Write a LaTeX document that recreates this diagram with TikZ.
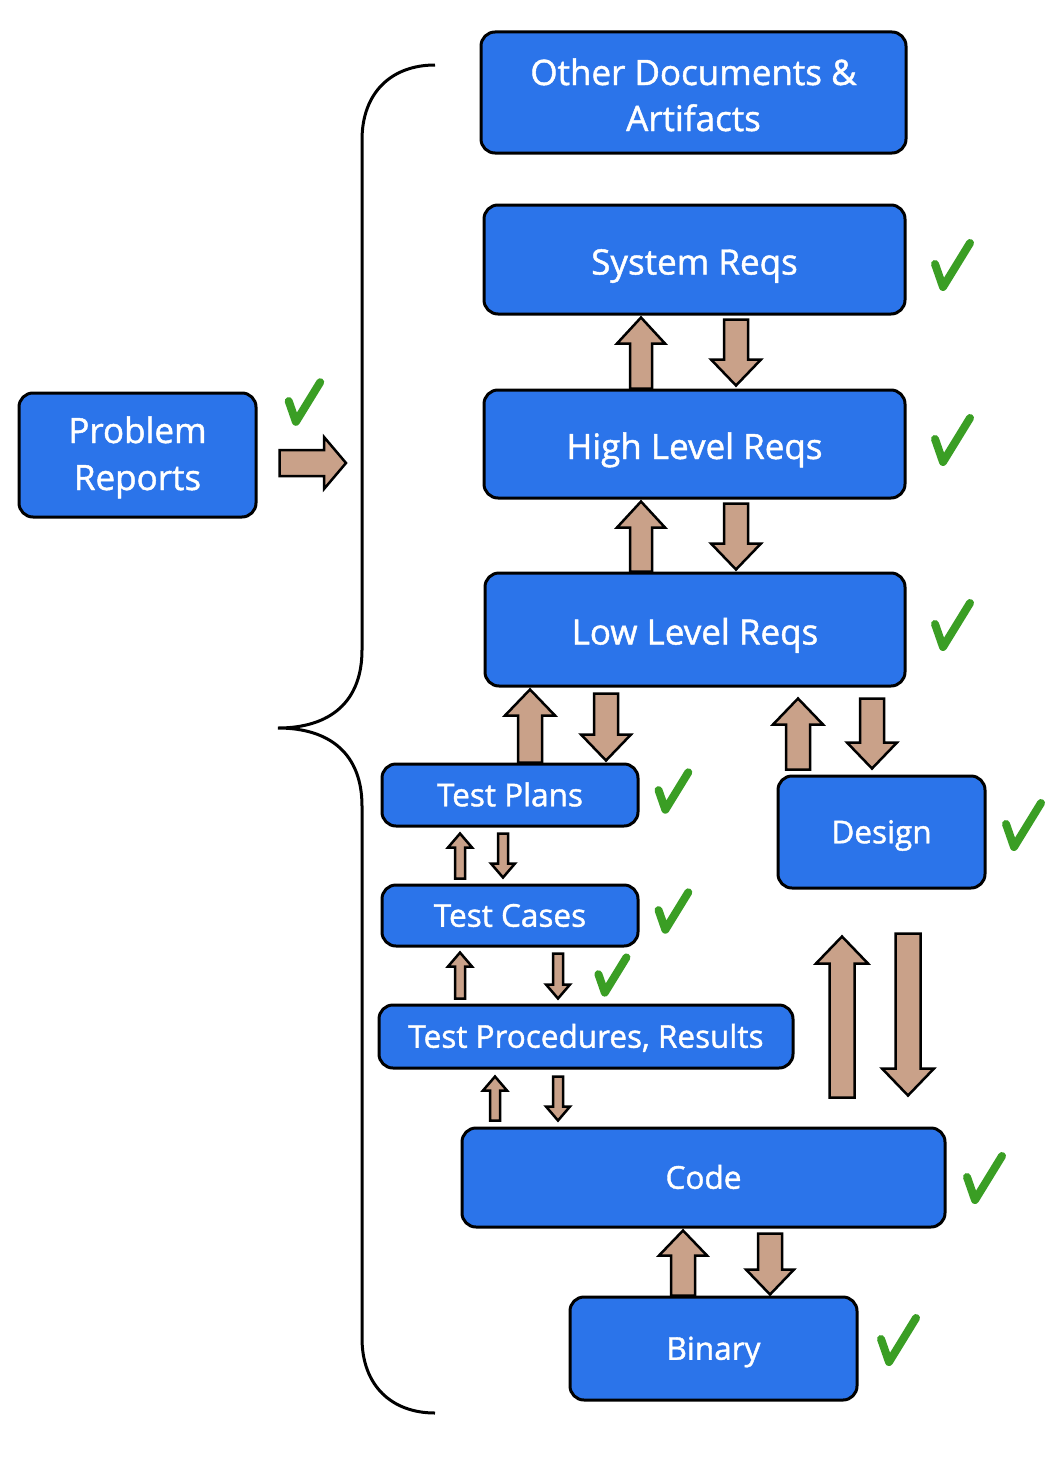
\documentclass[tikz,border=0pt]{standalone}
\usepackage{fontspec}
\setmainfont{Open Sans}[FakeBold=1.3]
\usetikzlibrary{calc}
\definecolor{boxblue}{HTML}{2B74EA}
\definecolor{arrowtan}{HTML}{C9A189}
\definecolor{chkgreen}{HTML}{3A9E24}
\tikzset{
  box/.style={draw=black, line width=3pt, fill=boxblue, rounded corners=14pt,
    text=white, font=\fontsize{31.5}{46}\selectfont, align=center, inner sep=0pt,
    text height=22.5pt, text depth=0pt},
  bigbox/.style={box, font=\fontsize{35}{46}\selectfont, text height=30pt},
  barrow/.style={draw=black, line width=2.5pt, fill=arrowtan, line join=miter},
  check/.pic={\draw[chkgreen, line width=8pt, line cap=round, line join=round]
     (-17,-1) -- (-9,22) -- (18,-22);},
  bracestyle/.style={draw=black, line width=3pt}
}
% #1 start point, #2 end point, #3 x, #4 shaft half, #5 head half, #6 head length, #7 gap start, #8 gap end
\newcommand\varrow[8]{%
  \path[barrow] let \p1=(#1), \p2=(#2), \n1={sign(\y2-\y1)},
     \n2={\y1+\n1*#7}, \n3={\y2-\n1*#8}, \n4={\n3-\n1*#6} in
    (#3pt-#4pt,\n2) -- (#3pt-#4pt,\n4) -- (#3pt-#5pt,\n4) -- (#3pt,\n3)
    -- (#3pt+#5pt,\n4) -- (#3pt+#4pt,\n4) -- (#3pt+#4pt,\n2) -- cycle;}
\begin{document}
\begin{tikzpicture}[x=1pt,y=-1pt]
\useasboundingbox (0,0) rectangle (1062,1480);
\fill[white] (0,0) rectangle (1062,1480);

% nodes
\node[bigbox, font=\fontsize{35}{46}\selectfont, text height=77pt,
  minimum width=425, minimum height=121] (other) at (693.5,92.5) {Other Documents \&\\Artifacts};
\node[bigbox, minimum width=421, minimum height=109] (sys) at (694.5,259.5) {System Reqs};
\node[bigbox, minimum width=421, minimum height=108] (hl) at (694.5,444) {High Level Reqs};
\node[bigbox, minimum width=420, minimum height=113] (ll) at (695,629.5) {Low Level Reqs};
\node[bigbox, font=\fontsize{35}{47}\selectfont, text height=70pt,
  minimum width=237, minimum height=124] (pr) at (137.5,455) {Problem\\Reports};
\node[box, minimum width=256, minimum height=62] (tp) at (510,795) {Test Plans};
\node[box, minimum width=207, minimum height=112] (design) at (881.5,832) {Design};
\node[box, minimum width=256, minimum height=61] (tc) at (510,915.5) {Test Cases};
\node[box, minimum width=414, minimum height=63] (tpr) at (586,1036.5) {Test Procedures, Results};
\node[box, minimum width=483, minimum height=99] (code) at (703.5,1177.5) {Code};
\node[box, minimum width=287, minimum height=103] (bin) at (713.5,1348.5) {Binary};

% brace
\coordinate (bracetip) at (278,728);
\coordinate (bracein) at (346,463);
\draw[bracestyle] (435,65) .. controls (392,65) and (362,92) .. (362,140)
  -- (362,650) .. controls (362,702) and (330,728) .. (bracetip)
  .. controls (330,728) and (362,754) .. (362,806)
  -- (362,1338) .. controls (362,1386) and (392,1413) .. (435,1413);

% problem reports arrow
\path[barrow] let \p1=(pr.east), \p2=(bracein) in
  (\x1+22pt,\y2-13pt) -- (\x2-22pt,\y2-13pt) -- (\x2-22pt,\y2-26pt) -- (\x2,\y2)
  -- (\x2-22pt,\y2+26pt) -- (\x2-22pt,\y2+13pt) -- (\x1+22pt,\y2+13pt) -- cycle;

% block arrows
\varrow{hl.north}{sys.south}{641}{11}{24}{26}{0}{2}
\varrow{sys.south}{hl.north}{736}{12}{25}{26}{4}{3}
\varrow{ll.north}{hl.south}{641}{11}{24}{26}{0}{2}
\varrow{hl.south}{ll.north}{736}{12}{25}{26}{4}{2}
\varrow{tp.north}{ll.south}{530}{12}{25}{26}{0}{2}
\varrow{ll.south}{tp.north}{606}{12}{25}{26}{6}{2}
\varrow{design.north}{ll.south}{798}{12}{25}{26}{5}{11}
\varrow{ll.south}{design.north}{872}{12}{25}{26}{11}{6}
\varrow{tc.north}{tp.south}{460}{5}{12}{14}{5}{6}
\varrow{tp.south}{tc.north}{503}{5}{12}{14}{6}{6}
\varrow{tpr.north}{tc.south}{460}{5}{12}{14}{5}{5}
\varrow{tc.south}{tpr.north}{558}{5}{12}{14}{6}{5}
\varrow{code.north}{tpr.south}{495}{5}{12}{14}{6}{7}
\varrow{tpr.south}{code.north}{558}{5}{12}{14}{7}{6}
\varrow{code.north}{design.south}{842}{12.5}{26}{27}{29}{47}
\varrow{design.south}{code.north}{908}{12.5}{26}{27}{44}{31}
\varrow{bin.north}{code.south}{683}{12}{24}{25}{0}{2}
\varrow{code.south}{bin.north}{770}{12}{24}{25}{5}{1}

% checks
\pic at (952,265) {check};
\pic at (952,440) {check};
\pic at (952,625) {check};
\pic[scale=0.9] at (304,402) {check};
\pic[scale=0.85] at (673,791) {check};
\pic[scale=0.85] at (673,911) {check};
\pic[scale=0.8] at (612,975) {check};
\pic at (1023,825) {check};
\pic at (984,1178) {check};
\pic at (898,1340) {check};
\end{tikzpicture}
\end{document}
